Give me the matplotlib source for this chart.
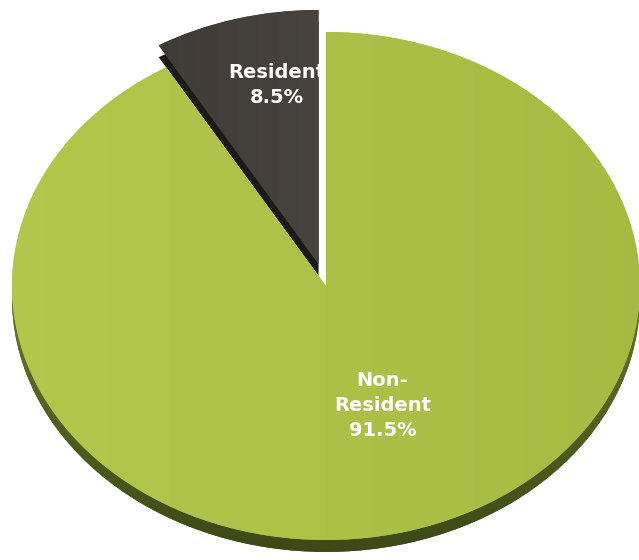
import numpy as np
import matplotlib.pyplot as plt
from matplotlib.colors import LinearSegmentedColormap

# data
labels = ["Resident", "Non-\nResident"]
shares = [8.5, 91.5]
top_colors = ["#45403c", "#acc046"]
side_colors = ["#1c1a18", "#46531b"]
explode = [0.09, 0.0]

fig = plt.figure(figsize=(6.39, 5.6), dpi=100)
ax = fig.add_axes([0, 0, 1, 1])

depth = 0.047

# side (depth) layer, shifted down
side, _ = ax.pie(shares, colors=side_colors, startangle=90, counterclock=True,
                 explode=explode, center=(0, -depth),
                 wedgeprops=dict(linewidth=0))
# top faces
top, _ = ax.pie(shares, colors=top_colors, startangle=90, counterclock=True,
                explode=explode, wedgeprops=dict(linewidth=0))

# soft shading on the faces
grad = np.linspace(0, 1, 256).reshape(1, -1)
green_cmap = LinearSegmentedColormap.from_list("g", ["#b4c74d", "#a6b942"])
dark_cmap = LinearSegmentedColormap.from_list("d", ["#3e3a36", "#4a4541"])
im = ax.imshow(grad, cmap=green_cmap, extent=(-1.1, 1.1, -1.1, 1.1),
               aspect="auto", zorder=2)
im.set_clip_path(top[1])
im2 = ax.imshow(grad, cmap=dark_cmap, extent=(-0.6, 0.1, 0.0, 1.2),
                aspect="auto", zorder=2)
im2.set_clip_path(top[0])

vgrad = np.linspace(0, 1, 256).reshape(-1, 1)
side_cmap = LinearSegmentedColormap.from_list("s", ["#3b4615", "#6b7d2b"])
im3 = ax.imshow(vgrad, cmap=side_cmap, extent=(-1.1, 1.1, -1.1, 0.1),
                origin="lower", aspect="auto", zorder=1)
im3.set_clip_path(side[1])
for w in side:
    w.set_zorder(1)
for w in top:
    w.set_zorder(1.5)

# labels
label_pos = [(-0.156, 0.79), (0.18, -0.47)]
for lab, val, (x, y) in zip(labels, shares, label_pos):
    ax.text(x, y, f"{lab}\n{val}%", color="white", fontsize=14,
            fontweight="bold", family="DejaVu Sans", ha="center", va="center",
            linespacing=1.4, zorder=5)

ax.set_aspect("auto")
ax.set_xlim(-326 / 314, (639 - 326) / 314)
ax.set_ylim(-274 / 254, (560 - 274) / 254)
ax.axis("off")

fig.savefig("out.png", dpi=100)
